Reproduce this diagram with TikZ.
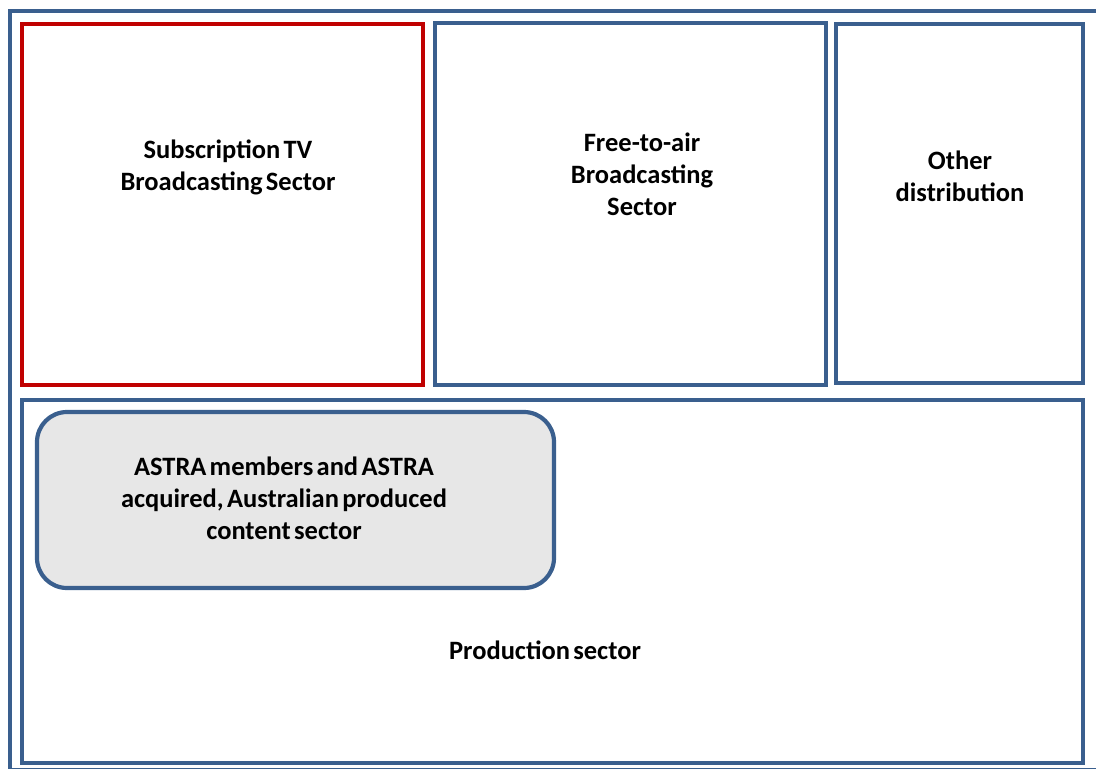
\documentclass[tikz,border=0pt]{standalone}
\usepackage{fontspec}
\setmainfont{Carlito}[WordSpace=0.55]
\usetikzlibrary{positioning}
\definecolor{frameblue}{HTML}{3A5F8E}
\definecolor{subred}{HTML}{C00000}
\definecolor{astragray}{HTML}{E7E7E7}
\tikzset{
  sector/.style={draw=frameblue, line width=4.2pt, rectangle, inner sep=0pt},
  paysector/.style={sector, draw=subred},
  content/.style={sector, fill=astragray, rounded corners=30pt},
  lab/.style={font=\bfseries\fontsize{26.5}{32}\selectfont, align=center, text=black},
}
\begin{document}
\begin{tikzpicture}[x=1pt,y=-1pt]
  \useasboundingbox (0,0) rectangle (1096,769);
  % outer frame, cut by the page at right and bottom
  \node[sector, minimum width=1088pt, minimum height=759pt] (all) at (554,390.5) {};

  % distribution sectors
  \node[paysector, minimum width=401pt, minimum height=361pt] (stv) at (222.5,204.5) {};
  \node[sector, minimum width=391pt, minimum height=362pt] (fta) at (630.5,204) {};
  \node[sector, minimum width=247pt, minimum height=359pt] (other) at (959.5,203.5) {};

  % production
  \node[sector, minimum width=1061pt, minimum height=363pt] (prod) at (552.5,581.5) {};
  \node[content, minimum width=517pt, minimum height=176pt] (astra) at (295.5,500) {};

  \node[lab] (stvlab) at (228,167) {Subscription TV\\Broadcasting Sector};
  \node[lab] (ftalab) at (642,174) {Free-to-air\\Broadcasting\\Sector};
  \node[lab] (otherlab) at (960,176) {Other\\distribution};
  \node[lab] (astralab) at (284,498) {ASTRA members and ASTRA\\acquired, Australian produced\\content sector};
  \node[lab] (prodlab) at (545,650) {Production sector};
\end{tikzpicture}
\end{document}
